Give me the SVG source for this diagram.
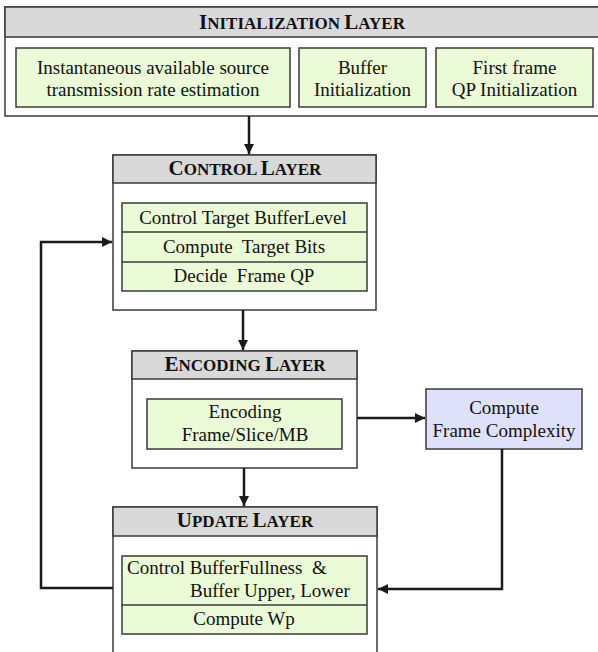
<svg xmlns="http://www.w3.org/2000/svg" width="598" height="652" viewBox="0 0 598 652">
  <defs>
    <marker id="arrow" viewBox="0 0 10 10" refX="10" refY="5" markerWidth="4" markerHeight="4" orient="auto" markerUnits="strokeWidth">
      <path d="M0,0 L10,5 L0,10 z" fill="#1a1a1a"/>
    </marker>
    <style>
      .frame { fill: #ffffff; stroke: #3a3a3a; stroke-width: 1.5; }
      .head { fill: #d9d9d9; stroke: #3a3a3a; stroke-width: 1.5; }
      .task { fill: #ebfbd7; stroke: #3a3a3a; stroke-width: 1.5; }
      .calc { fill: #dfe1fb; stroke: #3a3a3a; stroke-width: 1.5; }
      .sep { stroke: #3a3a3a; stroke-width: 1.5; }
      .t { font-family: "Liberation Serif", "Times New Roman", serif; font-size: 19px; fill: #111111; white-space: pre; }
      .c { text-anchor: middle; }
      .h { font-family: "Liberation Serif", "Times New Roman", serif; font-weight: bold; font-size: 17px; fill: #111111; text-anchor: middle; }
      .big { font-size: 21px; }
      .wire { fill: none; stroke: #1a1a1a; stroke-width: 2.5; }
    </style>
  </defs>

  <rect width="598" height="652" fill="#ffffff"/>

  <!-- Initialization layer -->
  <g id="init-layer">
    <rect class="frame" x="5" y="7" width="600" height="109"/>
    <rect class="head" x="5" y="7" width="600" height="30"/>
    <text class="h" x="302" y="29"><tspan class="big">I</tspan>NITIALIZATION <tspan class="big">L</tspan>AYER</text>
  </g>
  <g id="rate-estimation">
    <rect class="task" x="16" y="48" width="274" height="59"/>
    <text class="t c" x="153" y="74">Instantaneous available source</text>
    <text class="t c" x="153" y="96">transmission rate estimation</text>
  </g>
  <g id="buffer-init">
    <rect class="task" x="299" y="48" width="127" height="59"/>
    <text class="t c" x="362.5" y="74">Buffer</text>
    <text class="t c" x="362.5" y="96">Initialization</text>
  </g>
  <g id="qp-init">
    <rect class="task" x="436" y="48" width="157" height="59"/>
    <text class="t c" x="514.5" y="74">First frame</text>
    <text class="t c" x="514.5" y="96">QP Initialization</text>
  </g>

  <!-- Control layer -->
  <g id="control-layer">
    <rect class="frame" x="113" y="155" width="263" height="155"/>
    <rect class="head" x="113" y="155" width="263" height="28"/>
    <text class="h" x="245" y="175"><tspan class="big">C</tspan>ONTROL <tspan class="big">L</tspan>AYER</text>
    <rect class="task" x="122" y="203" width="245" height="88"/>
    <line class="sep" x1="122" y1="232" x2="367" y2="232"/>
    <line class="sep" x1="122" y1="262" x2="367" y2="262"/>
    <text class="t c" x="243" y="224">Control Target BufferLevel</text>
    <text class="t c" x="244" y="253" xml:space="preserve">Compute  Target Bits</text>
    <text class="t c" x="244" y="282" xml:space="preserve">Decide  Frame QP</text>
  </g>

  <!-- Encoding layer -->
  <g id="encoding-layer">
    <rect class="frame" x="132" y="351" width="225" height="117"/>
    <rect class="head" x="132" y="351" width="225" height="28"/>
    <text class="h" x="245" y="371"><tspan class="big">E</tspan>NCODING <tspan class="big">L</tspan>AYER</text>
    <rect class="task" x="147" y="399" width="195" height="50"/>
    <text class="t c" x="245" y="418">Encoding</text>
    <text class="t c" x="245" y="441">Frame/Slice/MB</text>
  </g>

  <!-- Frame complexity -->
  <g id="frame-complexity">
    <rect class="calc" x="426" y="389" width="156" height="60"/>
    <text class="t c" x="504" y="414">Compute</text>
    <text class="t c" x="504" y="437">Frame Complexity</text>
  </g>

  <!-- Update layer -->
  <g id="update-layer">
    <rect class="frame" x="113" y="507" width="264" height="160"/>
    <rect class="head" x="113" y="507" width="264" height="29"/>
    <text class="h" x="245" y="527"><tspan class="big">U</tspan>PDATE <tspan class="big">L</tspan>AYER</text>
    <rect class="task" x="122" y="556" width="245" height="78"/>
    <line class="sep" x1="122" y1="605" x2="367" y2="605"/>
    <text class="t" x="127" y="574" xml:space="preserve">Control BufferFullness  &amp;</text>
    <text class="t" x="190" y="597">Buffer Upper, Lower</text>
    <text class="t c" x="244" y="625">Compute Wp</text>
  </g>

  <!-- Connectors -->
  <g id="connectors">
    <line class="wire" x1="249" y1="116" x2="249" y2="154" marker-end="url(#arrow)"/>
    <line class="wire" x1="243" y1="310" x2="243" y2="350" marker-end="url(#arrow)"/>
    <line class="wire" x1="244" y1="468" x2="244" y2="506" marker-end="url(#arrow)"/>
    <line class="wire" x1="357" y1="418" x2="425" y2="418" marker-end="url(#arrow)"/>
    <path class="wire" d="M502,449 V589 H378" marker-end="url(#arrow)"/>
    <path class="wire" d="M113,588 H41 V242 H112" marker-end="url(#arrow)"/>
  </g>
</svg>
